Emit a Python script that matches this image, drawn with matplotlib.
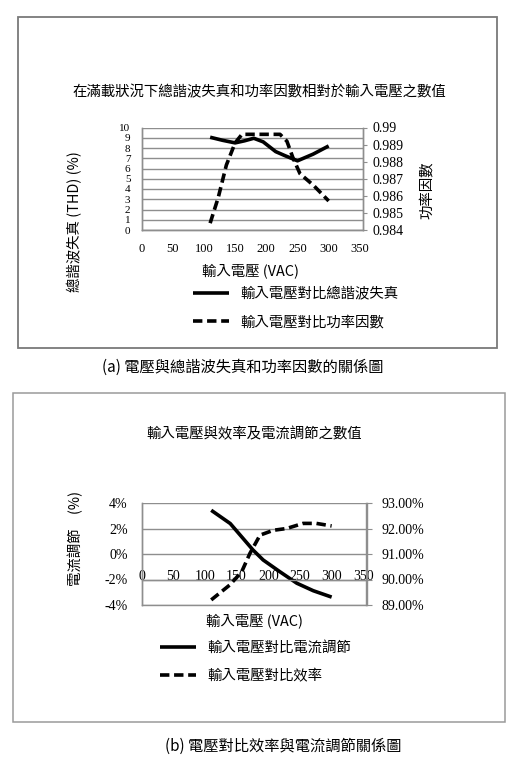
import numpy as np
import matplotlib
matplotlib.use('Agg')
import matplotlib.pyplot as plt
from matplotlib.patches import Rectangle
from matplotlib.ticker import PercentFormatter, MultipleLocator

cjk = ['Noto Sans CJK TC', 'DejaVu Sans']
serif = ['Liberation Serif', 'DejaVu Serif']
plt.rcParams['font.family'] = cjk
plt.rcParams['axes.unicode_minus'] = False

# (a) THD and power factor vs input voltage
thd_v = [110, 130, 150, 165, 180, 195, 215, 230, 250, 275, 300]
thd = [9.05, 8.75, 8.5, 8.7, 8.95, 8.6, 7.65, 7.25, 6.75, 7.4, 8.2]
pf_v = [110, 123, 136, 150, 161, 190, 222, 233, 243, 254, 276, 300]
pf = [0.9844, 0.9859, 0.9878, 0.9891, 0.9896, 0.9896, 0.9896, 0.9892,
      0.9882, 0.9873, 0.9866, 0.9857]

# (b) current regulation and efficiency vs input voltage
reg_v = [110, 140, 158, 176, 192, 218, 245, 271, 300]
reg = [3.43, 2.39, 1.35, 0.31, -0.47, -1.38, -2.29, -2.88, -3.38]
eff_v = [110, 139, 158, 171, 187, 208, 229, 255, 276, 300]
eff = [89.2, 89.78, 90.3, 91.02, 91.74, 91.93, 92.0, 92.2, 92.2, 92.1]

x_ticks = [0, 50, 100, 150, 200, 250, 300, 350]

title_a = '在滿載狀況下總諧波失真和功率因數相對於輸入電壓之數值'
title_b = '輸入電壓與效率及電流調節之數值'
xlab = '輸入電壓 (VAC)'
lab_thd = '輸入電壓對比總諧波失真'
lab_pf = '輸入電壓對比功率因數'
lab_reg = '輸入電壓對比電流調節'
lab_eff = '輸入電壓對比效率'
cap_a = '(a) 電壓與總諧波失真和功率因數的關係圖'
cap_b = '(b) 電壓對比效率與電流調節關係圖'

W, H = 516, 766
grid_c = '#8e8e8e'
lw = 2.6
dash = (2.6, 1.3)
fs = 10.4

fig = plt.figure(figsize=(W / 100, H / 100), dpi=100)


def fx(px):
    return px / W


def fy(py):
    return 1 - py / H


def frame(ax):
    for s in ax.spines.values():
        s.set_color(grid_c)
        s.set_linewidth(1)
    ax.spines['top'].set_visible(False)


# boxes
fig.add_artist(Rectangle((fx(18), fy(348)), fx(497) - fx(18), fy(17) - fy(348),
                         transform=fig.transFigure, fill=False,
                         edgecolor='#7a7a7a', lw=1.3))
fig.add_artist(Rectangle((fx(13), fy(722)), fx(505) - fx(13), fy(393) - fy(722),
                         transform=fig.transFigure, fill=False,
                         edgecolor='#9a9a9a', lw=1.1))

# ---------- chart (a) ----------
ax1 = fig.add_axes([fx(141.5), fy(230), fx(363) - fx(141.5), fy(127.5) - fy(230)])
ax1b = ax1.twinx()
frame(ax1)
frame(ax1b)
ax1.set_xlim(0, 355)
ax1.set_ylim(0, 10)
ax1.yaxis.set_major_locator(MultipleLocator(1))
ax1.grid(axis='y', color=grid_c, lw=1)
ax1.set_axisbelow(True)
ax1.set_xticks(x_ticks)
ax1.tick_params(axis='x', length=0, pad=9, labelsize=9)
ax1.tick_params(axis='y', length=0, pad=8, labelsize=8)
for t in ax1.get_xticklabels() + ax1.get_yticklabels():
    t.set_fontfamily(serif)
l1, = ax1.plot(thd_v, thd, color='black', lw=lw, solid_capstyle='butt')

ax1b.set_ylim(0.984, 0.99)
ax1b.set_yticks([0.984, 0.985, 0.986, 0.987, 0.988, 0.989, 0.99])
ax1b.set_yticklabels(['0.984', '0.985', '0.986', '0.987', '0.988', '0.989', '0.99'])
ax1b.tick_params(axis='y', direction='out', length=3, color=grid_c, pad=4, labelsize=10)
for t in ax1b.get_yticklabels():
    t.set_fontfamily(serif)
l2, = ax1b.plot(pf_v, pf, color='black', lw=lw, dashes=dash)

fig.text(fx(259), fy(92), title_a, ha='center', va='center', fontsize=fs)
fig.text(fx(250), fy(271), xlab, ha='center', va='center', fontsize=fs)
fig.text(fx(75), fy(222), '總諧波失真 (THD) (%)', ha='center', va='center',
         rotation=90, fontsize=fs)
fig.text(fx(427), fy(190), '功率因數', ha='center', va='center',
         rotation=90, fontsize=fs)
fig.legend([l1, l2], [lab_thd, lab_pf], loc='upper left',
           bbox_to_anchor=(fx(193), fy(287)), frameon=False, fontsize=fs,
           handlelength=2.5, handletextpad=0.75, labelspacing=1.0,
           borderpad=0, borderaxespad=0)
fig.text(fx(243), fy(367), cap_a, ha='center', va='center', fontsize=11)

# ---------- chart (b) ----------
ax2 = fig.add_axes([fx(141.5), fy(605), fx(366.5) - fx(141.5), fy(503) - fy(605)])
ax2b = ax2.twinx()
frame(ax2)
frame(ax2b)
ax2.set_xlim(0, 355)
ax2.set_ylim(-4, 4)
ax2.set_yticks([-4, -2, 0, 2, 4])
ax2.yaxis.set_major_formatter(PercentFormatter(100, decimals=0))
ax2.grid(axis='y', color=grid_c, lw=1)
ax2.set_axisbelow(True)
ax2.spines['bottom'].set_position(('data', -2))
ax2.set_xticks(x_ticks)
ax2.tick_params(axis='x', length=0, pad=-6.5, labelsize=10)
ax2.tick_params(axis='y', length=0, pad=10, labelsize=10)
for t in ax2.get_xticklabels() + ax2.get_yticklabels():
    t.set_fontfamily(serif)
l3, = ax2.plot(reg_v, reg, color='black', lw=lw, solid_capstyle='butt')

ax2b.set_ylim(89, 93)
ax2b.set_yticks([89, 90, 91, 92, 93])
ax2b.yaxis.set_major_formatter(PercentFormatter(100, decimals=2))
ax2b.tick_params(axis='y', direction='out', length=4, color=grid_c, pad=7, labelsize=10)
for t in ax2b.get_yticklabels():
    t.set_fontfamily(serif)
l4, = ax2b.plot(eff_v, eff, color='black', lw=lw, dashes=dash)

fig.text(fx(254), fy(434), title_b, ha='center', va='center', fontsize=fs)
fig.text(fx(255), fy(621), xlab, ha='center', va='center', fontsize=fs)
fig.text(fx(75), fy(538), '電流調節　(%)', ha='center', va='center',
         rotation=90, fontsize=fs)
fig.legend([l3, l4], [lab_reg, lab_eff], loc='upper left',
           bbox_to_anchor=(fx(160), fy(641)), frameon=False, fontsize=fs,
           handlelength=2.5, handletextpad=0.75, labelspacing=1.0,
           borderpad=0, borderaxespad=0)
fig.text(fx(283), fy(746), cap_b, ha='center', va='center', fontsize=11)

fig.savefig('out.png', dpi=100)
